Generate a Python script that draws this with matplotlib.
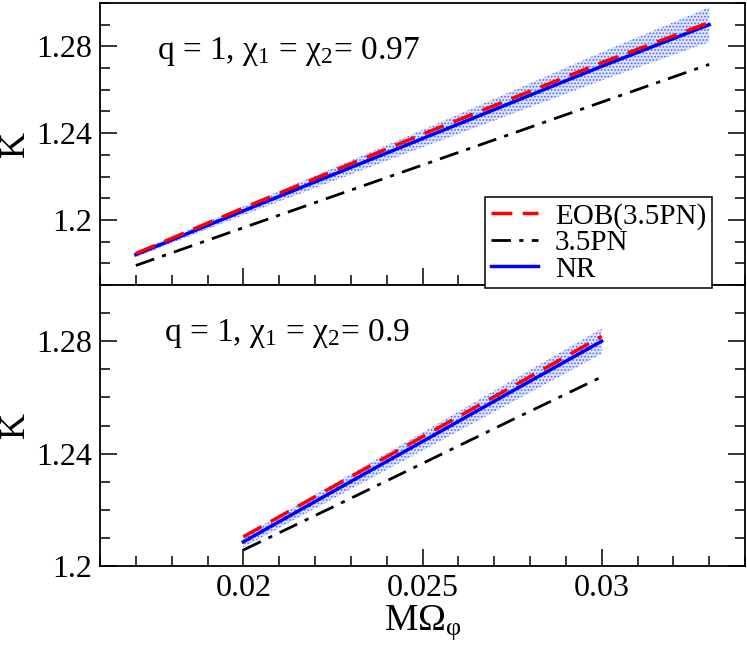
import numpy as np
import matplotlib
matplotlib.use("Agg")
import matplotlib.pyplot as plt
from matplotlib.ticker import MultipleLocator, FixedLocator

# --- datos ---
x_top = [0.017, 0.020, 0.025, 0.030, 0.033]
nr_top = [1.184, 1.2042, 1.2375, 1.2708, 1.290]
eob_top = [1.1845, 1.2055, 1.2395, 1.2725, 1.291]
pn_top = [1.179, 1.1964, 1.2253, 1.2543, 1.2717]
err_top = [0.0012, 0.002, 0.004, 0.0065, 0.008]

x_bot = [0.020, 0.0225, 0.025, 0.0275, 0.030]
nr_bot = [1.2086, 1.2265, 1.2443, 1.2622, 1.280]
eob_bot = [1.2104, 1.2282, 1.246, 1.2638, 1.2817]
pn_bot = [1.2057, 1.221, 1.2365, 1.252, 1.2673]
err_bot = [0.002, 0.0026, 0.0032, 0.0039, 0.0045]

labels_top = "q = 1, χ$_1$ = χ$_2$= 0.97"
labels_bot = "q = 1, χ$_1$ = χ$_2$= 0.9"

plt.rcParams['font.family'] = ['Liberation Serif', 'DejaVu Serif']
plt.rcParams['mathtext.fontset'] = 'custom'
plt.rcParams['mathtext.rm'] = 'Liberation Serif'
plt.rcParams['mathtext.it'] = 'Liberation Serif'
plt.rcParams['hatch.linewidth'] = 0.8

fig = plt.figure(figsize=(7.47, 6.53), dpi=100)
ax1 = fig.add_axes([100/747, 1-285/653, 645/747, 282/653])
ax2 = fig.add_axes([100/747, 1-566/653, 645/747, 281/653], sharex=ax1)

def panel(ax, x, nr, eob, pn, err):
    x = np.array(x); nr = np.array(nr); err = np.array(err)
    ax.fill_between(x, nr - err, nr + err, facecolor=(0.75, 0.8, 1.0), alpha=0.5,
                    edgecolor='none', zorder=1)
    ax.fill_between(x, nr - err, nr + err, facecolor='none', edgecolor=(0.3, 0.4, 1.0),
                    hatch='.....', linewidth=0, zorder=1)
    h1, = ax.plot(x, eob, color='red', lw=2.5, dashes=(6, 3), zorder=3, label='EOB(3.5PN)')
    h2, = ax.plot(x, pn, color='black', lw=2.0, dashes=(7, 3, 1.5, 3), zorder=3, label='3.5PN')
    h3, = ax.plot(x, nr, color='blue', lw=2.5, zorder=2, label='NR')
    for s in ax.spines.values():
        s.set_linewidth(1.3)
    ax.tick_params(which='both', direction='in', right=True, top=False, width=1.1,
                   labelsize=23, pad=6)
    ax.tick_params(which='major', length=12)
    ax.tick_params(which='minor', length=7)
    ax.xaxis.set_major_locator(MultipleLocator(0.005))
    ax.xaxis.set_minor_locator(MultipleLocator(0.001))
    ax.yaxis.set_major_locator(FixedLocator([1.2, 1.24, 1.28]))
    ax.yaxis.set_minor_locator(MultipleLocator(0.01))
    ax.yaxis.set_major_formatter(plt.FuncFormatter(lambda v, p: f"{v:g}"))
    # posicion fija de la etiqueta K (como en la figura original)
    ax.text(-0.131, 0.5, 'K', transform=ax.transAxes, fontsize=26,
            rotation=90, ha='center', va='center')
    return [h1, h2, h3]

handles = panel(ax1, x_top, nr_top, eob_top, pn_top, err_top)
panel(ax2, x_bot, nr_bot, eob_bot, pn_bot, err_bot)

ax1.set_xlim(0.016, 0.034)
ax1.set_ylim(1.17, 1.30)
ax2.set_ylim(1.2, 1.30)
ax1.tick_params(labelbottom=False)
ax2.xaxis.set_major_formatter(plt.FuncFormatter(lambda v, p: f"{v:g}"))
ax2.set_xlabel('MΩ$_φ$', fontsize=27, labelpad=0)

ax1.text(0.088, 0.80, labels_top, transform=ax1.transAxes, fontsize=24)
ax2.text(0.10, 0.80, labels_bot, transform=ax2.transAxes, fontsize=24)

leg = fig.legend(handles=handles, loc='upper left', bbox_to_anchor=(485/747, 1-197/653),
                 fontsize=21, frameon=True, fancybox=False, edgecolor='black',
                 framealpha=1, handlelength=1.6, handletextpad=0.6, labelspacing=0.0,
                 borderpad=0.2, borderaxespad=0)
leg.get_frame().set_linewidth(1.1)
leg.set_zorder(10)

fig.savefig('out.png', dpi=100)
